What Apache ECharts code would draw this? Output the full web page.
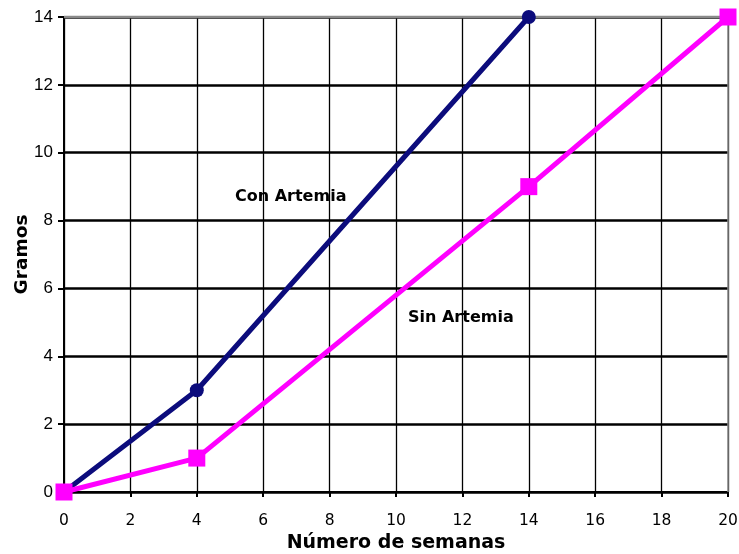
<!DOCTYPE html>
<html><head><meta charset="utf-8">
<script src="https://cdn.jsdelivr.net/npm/echarts@6/dist/echarts.min.js"></script>
<style>html,body{margin:0;padding:0;background:#fff}#c{width:739px;height:554px}</style>
</head><body><div id="c"></div>
<script>
const conArtemiaX = [0, 4, 14];
const conArtemiaY = [0, 3, 14];
const sinArtemiaX = [0, 4, 14, 20];
const sinArtemiaY = [0, 1, 9, 14];
const xLabel = 'Número de semanas';
const yLabel = 'Gramos';
const seriesNames = ['Con Artemia', 'Sin Artemia'];

const chart = echarts.init(document.getElementById('c'));
const fontL = '"Liberation Sans", Arial, sans-serif';
const fontD = '"DejaVu Sans", sans-serif';
chart.setOption({
  animation: false,
  grid: {left: 64, right: 11, top: 17, bottom: 62, containLabel: false, outerBoundsMode: 'none'},
  xAxis: {
    type: 'value', min: 0, max: 20, interval: 2,
    name: xLabel, nameLocation: 'middle', nameGap: 42, nameMoveOverlap: false,
    nameTextStyle: {fontFamily: fontD, fontWeight: 'bold', fontSize: 19, color: '#000'},
    axisLine: {lineStyle: {color: '#000', width: 2}},
    axisTick: {show: true, length: 5, lineStyle: {color: '#000', width: 2}},
    axisLabel: {fontFamily: fontD, fontSize: 15.5, color: '#000', margin: 21},
    splitLine: {show: true, lineStyle: {color: '#000', width: 1.3}}
  },
  yAxis: {
    type: 'value', min: 0, max: 14, interval: 2,
    name: yLabel, nameLocation: 'middle', nameGap: 32, nameMoveOverlap: false,
    nameTextStyle: {fontFamily: fontD, fontWeight: 'bold', fontSize: 18.5, color: '#000'},
    axisLine: {show: true, lineStyle: {color: '#000', width: 2}},
    axisTick: {show: true, length: 6, lineStyle: {color: '#000', width: 2}},
    axisLabel: {fontFamily: fontL, fontSize: 17, color: '#000', margin: 11},
    splitLine: {show: true, lineStyle: {color: '#000', width: 2.5}}
  },
  graphic: [
    {type: 'line', shape: {x1: 64, y1: 17, x2: 729, y2: 17}, style: {stroke: '#8a8a8a', lineWidth: 2.5}, silent: true, z: 2},
    {type: 'line', shape: {x1: 728, y1: 17, x2: 728, y2: 492}, style: {stroke: '#8a8a8a', lineWidth: 1.5}, silent: true, z: 2},
    {type: 'text', left: 235, top: 189, z: 5, style: {text: seriesNames[0], font: 'bold 16px ' + fontD, fill: '#000'}},
    {type: 'text', left: 408, top: 310, z: 5, style: {text: seriesNames[1], font: 'bold 16px ' + fontD, fill: '#000'}}
  ],
  series: [
    {name: seriesNames[0], type: 'line', data: conArtemiaX.map((x, i) => [x, conArtemiaY[i]]),
     symbol: 'circle', symbolSize: 14, lineStyle: {color: '#0c0c7c', width: 5}, itemStyle: {color: '#0c0c7c'}, z: 3},
    {name: seriesNames[1], type: 'line', data: sinArtemiaX.map((x, i) => [x, sinArtemiaY[i]]),
     symbol: 'rect', symbolSize: 17, lineStyle: {color: '#ff00ff', width: 5}, itemStyle: {color: '#ff00ff'}, z: 4}
  ]
});
</script></body></html>
